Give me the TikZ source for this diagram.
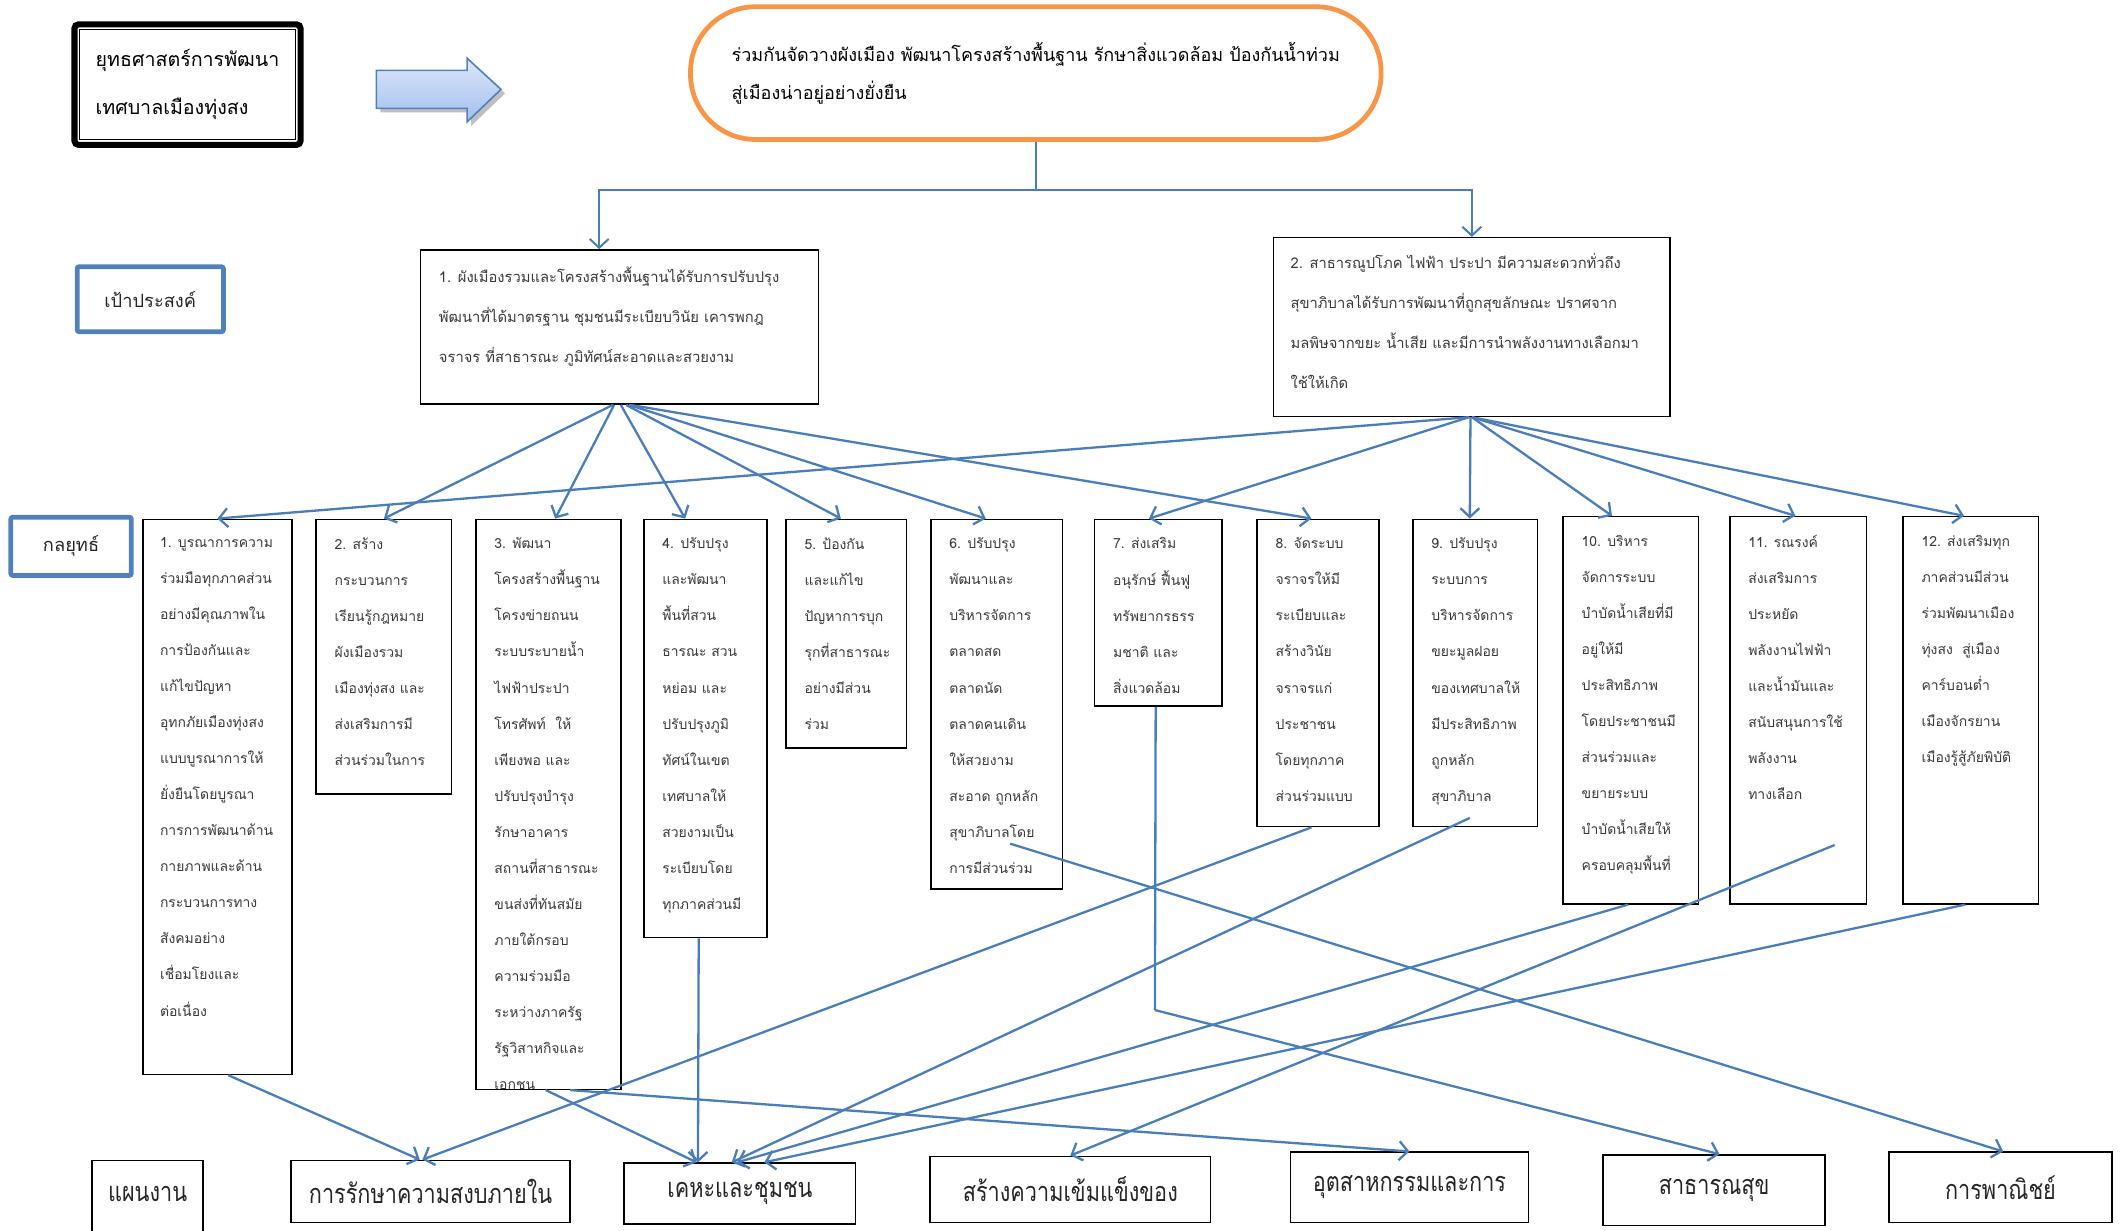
\documentclass[tikz,border=0pt]{standalone}
\usepackage{fontspec}
\setmainfont[Script=Thai]{Loma}
\newfontfamily\thaicond[Script=Thai,FakeStretch=0.8]{Loma}
\usetikzlibrary{arrows.meta,calc}
\definecolor{lnblue}{HTML}{4A7EBB}
\definecolor{bxblue}{HTML}{4F81BD}
\definecolor{ovorange}{HTML}{F79646}
\definecolor{txtgray}{HTML}{3A3A3A}
\definecolor{arrtop}{HTML}{DCE7FA}
\definecolor{arrbot}{HTML}{A3BFEC}
\tikzset{
  conn/.style={draw=lnblue, line width=1.7pt, -{Straight Barb[length=6.5pt,width=14pt]}},
  plainln/.style={draw=lnblue, line width=1.7pt},
  sbox/.style={draw=black, line width=1.1pt, anchor=north west, inner sep=0pt},
  stext/.style={anchor=north west, align=left, inner sep=0pt, text=txtgray, font=\fontsize{10.3}{26.6}\selectfont},
  otext/.style={anchor=north west, align=left, inner sep=0pt, text=txtgray, font=\fontsize{10.9}{29.5}\selectfont},
  lbox/.style={draw=bxblue, line width=3.5pt, rounded corners=1.5pt, inner sep=0pt, font=\fontsize{13.5}{16}\selectfont, text=black!85},
  bbox/.style={draw=black, line width=1.1pt, inner sep=0pt, font=\thaicond\fontsize{20}{24}\selectfont, text=black!85},
}
\begin{document}
\begin{tikzpicture}[x=1pt,y=-1pt]
\useasboundingbox (0,0) rectangle (1568,909);
\fill[white] (0,0) rectangle (1568,909);

% title box
\node[draw=black, line width=4.5pt, rounded corners=3pt, minimum width=167pt, minimum height=89pt,
      align=left, font=\fontsize{14.5}{35}\selectfont] (tl) at (138.5,62.5)
      {ยุทธศาสตร์การพัฒนา\\เทศบาลเมืองทุ่งสง};
\draw[line width=1pt] ($(tl.north west)+(6,6)$) rectangle ($(tl.south east)+(-6,-6)$);

% block arrow
\fill[black!25] (281,55) -- (348,55) -- (348,46) -- (373,69) -- (348,93) -- (348,83) -- (281,83) -- cycle;
\draw[draw=bxblue, line width=1.2pt, top color=arrtop, bottom color=arrbot]
  (278,52) -- (345,52) -- (345,43) -- (370,66) -- (345,90) -- (345,80) -- (278,80) -- cycle;

% vision oval
\node[draw=ovorange, line width=3.5pt, rounded corners=48pt, minimum width=510pt, minimum height=98pt,
      align=left, font=\fontsize{13.3}{28}\selectfont] (ov) at (765,54)
      {ร่วมกันจัดวางผังเมือง พัฒนาโครงสร้างพื้นฐาน รักษาสิ่งแวดล้อม ป้องกันน้ำท่วม\\สู่เมืองน่าอยู่อย่างยั่งยืน};

% labels
\node[lbox, minimum width=108pt, minimum height=48pt] (lg) at (111,221) {เป้าประสงค์};
\node[lbox, minimum width=89pt, minimum height=43pt] (ls) at (52.5,403.5) {กลยุทธ์};

% objectives
\node[sbox, minimum width=294pt, minimum height=114pt] (o1) at (310,184) {};
\node[otext] (o1t) at ($(o1.north west)+(14,13)$)
  {1. ผังเมืองรวมและโครงสร้างพื้นฐานได้รับการปรับปรุง\\พัฒนาที่ได้มาตรฐาน ชุมชนมีระเบียบวินัย เคารพกฎ\\จราจร ที่สาธารณะ ภูมิทัศน์สะอาดและสวยงาม};
\node[sbox, minimum width=293pt, minimum height=132pt] (o2) at (940,175) {};
\node[otext] (o2t) at ($(o2.north west)+(13,12)$)
  {2. สาธารณูปโภค ไฟฟ้า ประปา มีความสะดวกทั่วถึง\\สุขาภิบาลได้รับการพัฒนาที่ถูกสุขลักษณะ ปราศจาก\\มลพิษจากขยะ น้ำเสีย และมีการนำพลังงานทางเลือกมา\\ใช้ให้เกิด};

% strategies
\node[sbox, minimum width=110pt, minimum height=410pt] (s1) at (105,383) {};
\node[sbox, minimum width=100pt, minimum height=203pt] (s2) at (233,383) {};
\node[sbox, minimum width=107pt, minimum height=421pt] (s3) at (351,383) {};
\node[sbox, minimum width=91pt, minimum height=309pt] (s4) at (475,383) {};
\node[sbox, minimum width=89pt, minimum height=169pt] (s5) at (580,383) {};
\node[sbox, minimum width=97pt, minimum height=273pt] (s6) at (687,383) {};
\node[sbox, minimum width=94pt, minimum height=138pt] (s7) at (808,383) {};
\node[sbox, minimum width=90pt, minimum height=227pt] (s8) at (928,383) {};
\node[sbox, minimum width=92pt, minimum height=227pt] (s9) at (1043,383) {};
\node[sbox, minimum width=100pt, minimum height=286pt] (s10) at (1154,381) {};
\node[sbox, minimum width=101pt, minimum height=286pt] (s11) at (1277,381) {};
\node[sbox, minimum width=100pt, minimum height=286pt] (s12) at (1405,381) {};

\node[stext] (s1t) at ($(s1.north west)+(13,14)$)
  {1. บูรณาการความ\\ร่วมมือทุกภาคส่วน\\อย่างมีคุณภาพใน\\การป้องกันและ\\แก้ไขปัญหา\\อุทกภัยเมืองทุ่งสง\\แบบบูรณาการให้\\ยั่งยืนโดยบูรณา\\การการพัฒนาด้าน\\กายภาพและด้าน\\กระบวนการทาง\\สังคมอย่าง\\เชื่อมโยงและ\\ต่อเนื่อง};
\node[stext] (s2t) at ($(s2.north west)+(14,14)$)
  {2. สร้าง\\กระบวนการ\\เรียนรู้กฎหมาย\\ผังเมืองรวม\\เมืองทุ่งสง และ\\ส่งเสริมการมี\\ส่วนร่วมในการ};
\begin{scope}
\clip (s3.north west) rectangle (s3.south east);
\node[stext] (s3t) at ($(s3.north west)+(14,14)$)
  {3. พัฒนา\\โครงสร้างพื้นฐาน\\โครงข่ายถนน\\ระบบระบายน้ำ\\ไฟฟ้าประปา\\โทรศัพท์\ \ ให้\\เพียงพอ และ\\ปรับปรุงบำรุง\\รักษาอาคาร\\สถานที่สาธารณะ\\ขนส่งที่ทันสมัย\\ภายใต้กรอบ\\ความร่วมมือ\\ระหว่างภาครัฐ\\รัฐวิสาหกิจและ\\เอกชน};
\end{scope}
\node[stext] (s4t) at ($(s4.north west)+(14,14)$)
  {4. ปรับปรุง\\และพัฒนา\\พื้นที่สวน\\ธารณะ สวน\\หย่อม และ\\ปรับปรุงภูมิ\\ทัศน์ในเขต\\เทศบาลให้\\สวยงามเป็น\\ระเบียบโดย\\ทุกภาคส่วนมี};
\node[stext] (s5t) at ($(s5.north west)+(14,14)$)
  {5. ป้องกัน\\และแก้ไข\\ปัญหาการบุก\\รุกที่สาธารณะ\\อย่างมีส่วน\\ร่วม};
\node[stext] (s6t) at ($(s6.north west)+(14,14)$)
  {6. ปรับปรุง\\พัฒนาและ\\บริหารจัดการ\\ตลาดสด\\ตลาดนัด\\ตลาดคนเดิน\\ให้สวยงาม\\สะอาด ถูกหลัก\\สุขาภิบาลโดย\\การมีส่วนร่วม};
\node[stext] (s7t) at ($(s7.north west)+(14,14)$)
  {7. ส่งเสริม\\อนุรักษ์ ฟื้นฟู\\ทรัพยากรธรร\\มชาติ และ\\สิ่งแวดล้อม};
\node[stext] (s8t) at ($(s8.north west)+(14,14)$)
  {8. จัดระบบ\\จราจรให้มี\\ระเบียบและ\\สร้างวินัย\\จราจรแก่\\ประชาชน\\โดยทุกภาค\\ส่วนร่วมแบบ};
\node[stext] (s9t) at ($(s9.north west)+(14,14)$)
  {9. ปรับปรุง\\ระบบการ\\บริหารจัดการ\\ขยะมูลฝอย\\ของเทศบาลให้\\มีประสิทธิภาพ\\ถูกหลัก\\สุขาภิบาล};
\node[stext] (s10t) at ($(s10.north west)+(14,14)$)
  {10. บริหาร\\จัดการระบบ\\บำบัดน้ำเสียที่มี\\อยู่ให้มี\\ประสิทธิภาพ\\โดยประชาชนมี\\ส่วนร่วมและ\\ขยายระบบ\\บำบัดน้ำเสียให้\\ครอบคลุมพื้นที่};
\node[stext] (s11t) at ($(s11.north west)+(14,14)$)
  {11. รณรงค์\\ส่งเสริมการ\\ประหยัด\\พลังงานไฟฟ้า\\และน้ำมันและ\\สนับสนุนการใช้\\พลังงาน\\ทางเลือก};
\node[stext] (s12t) at ($(s12.north west)+(14,14)$)
  {12. ส่งเสริมทุก\\ภาคส่วนมีส่วน\\ร่วมพัฒนาเมือง\\ทุ่งสง\ \ สู่เมือง\\คาร์บอนต่ำ\\เมืองจักรยาน\\เมืองรู้สู้ภัยพิบัติ};

% bottom programme boxes
\node[bbox, minimum width=82pt, minimum height=58pt, text depth=9pt] (pl) at (109,886) {แผนงาน};
\node[bbox, minimum width=206pt, minimum height=46pt] (b1) at (318,880) {การรักษาความสงบภายใน};
\node[bbox, minimum width=171pt, minimum height=45pt] (b2) at (546.5,881.5) {เคหะและชุมชน};
\node[bbox, minimum width=207pt, minimum height=49pt] (b3) at (790.5,878.5) {สร้างความเข้มแข็งของ};
\node[bbox, minimum width=176pt, minimum height=52pt] (b4) at (1041,877) {อุตสาหกรรมและการ};
\node[bbox, minimum width=164pt, minimum height=52pt] (b5) at (1266,879) {สาธารณสุข};
\node[bbox, minimum width=165pt, minimum height=52pt] (b6) at (1477.5,877) {การพาณิชย์};

% vision -> objectives
\coordinate (j0) at (765,140);
\draw[plainln, line width=1.5pt] (ov.south) -- (j0);
\draw[conn, line width=1.5pt] (j0) -| ([xshift=-15pt]o1.north);
\draw[conn, line width=1.5pt] (j0) -| (o2.north);

% objective 1 -> strategies
\draw[conn] ([xshift=-5pt]o1.south) -- (s2.north);
\draw[conn] ([xshift=-4pt]o1.south) -- ([xshift=5pt]s3.north);
\draw[conn] ([xshift=1pt]o1.south) -- ([xshift=-15pt]s4.north);
\draw[conn] ([xshift=5pt]o1.south) -- ([xshift=-4pt]s5.north);
\draw[conn] ([xshift=7pt]o1.south) -- ([xshift=-8pt]s6.north);
\draw[conn] ([xshift=8pt]o1.south) -- ([xshift=-5pt]s8.north);

% objective 2 -> strategies
\draw[conn] ([xshift=-2pt]o2.south) -- (s1.north);
\draw[conn] ([xshift=-2pt]o2.south) -- ([xshift=-7pt]s7.north);
\draw[conn] ([xshift=-1pt]o2.south) -- ([xshift=-4pt]s9.north);
\draw[conn] ([xshift=0pt]o2.south) -- ([xshift=-14pt]s10.north);
\draw[conn] ([xshift=0pt]o2.south) -- ([xshift=-2pt]s11.north);
\draw[conn] ([xshift=0pt]o2.south) -- ([xshift=-5pt]s12.north);

% strategies -> programmes
\coordinate (k7) at (853,746);
\draw[conn] ([xshift=8pt]s1.south) -- ([xshift=-8pt]b1.north);
\draw[conn] ([xshift=-5pt]s8.south) -- ([xshift=-6pt]b1.north);
\draw[conn] ([xshift=-2pt]s3.south) -- ([xshift=-32pt]b2.north);
\draw[conn] ([xshift=16pt]s3.south) -- (b4.north);
\draw[conn] ([xshift=-5pt]s4.south) -- ([xshift=-31pt]b2.north);
\draw[conn] ($(s9.south)+(-4,-7)$) -- ([xshift=-6pt]b2.north);
\draw[conn] ([xshift=-2pt]s10.south) -- ([xshift=-2pt]b2.north);
\draw[conn] ([xshift=-4pt]s12.south) -- ([xshift=18pt]b2.north);
\draw[conn] ($(s11.south)+(27,-44)$) -- (b3.north);
\draw[conn] ($(s6.south)+(10,-34)$) -- ([xshift=2pt]b6.north);
\draw[plainln] ([xshift=-2pt]s7.south) -- (k7);
\draw[conn] (k7) -- ([xshift=4pt]b5.north);
\end{tikzpicture}
\end{document}
